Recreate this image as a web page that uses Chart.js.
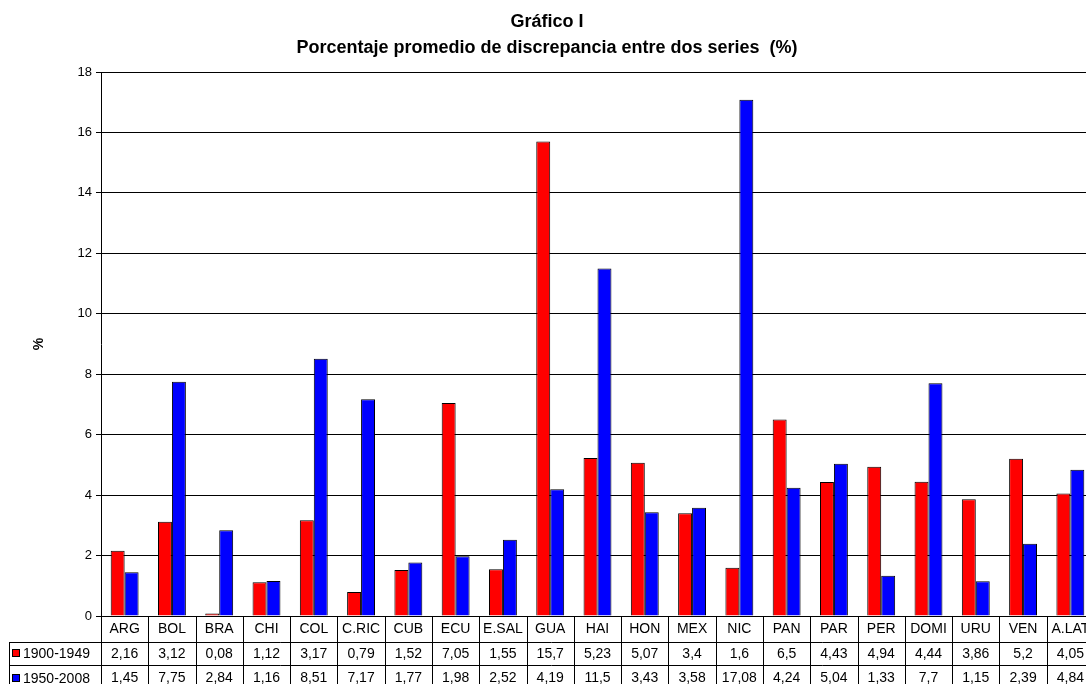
<!DOCTYPE html>
<html>
<head>
<meta charset="utf-8">
<script src="https://cdn.jsdelivr.net/npm/chart.js@4"></script>
<style>
  html, body { margin: 0; padding: 0; background: #fff; overflow: hidden; }
  #wrap { width: 1100px; height: 684px; }
</style>
</head>
<body>
<div id="wrap"><canvas id="chart" width="1100" height="684"></canvas></div>
<script>
const countries = ["ARG", "BOL", "BRA", "CHI", "COL", "C.RIC", "CUB", "ECU", "E.SAL", "GUA", "HAI",
  "HON", "MEX", "NIC", "PAN", "PAR", "PER", "DOMI", "URU", "VEN", "A.LAT"];
const serie1900 = [2.16, 3.12, 0.08, 1.12, 3.17, 0.79, 1.52, 7.05, 1.55, 15.7, 5.23,
  5.07, 3.4, 1.6, 6.5, 4.43, 4.94, 4.44, 3.86, 5.2, 4.05];
const serie1950 = [1.45, 7.75, 2.84, 1.16, 8.51, 7.17, 1.77, 1.98, 2.52, 4.19, 11.5,
  3.43, 3.58, 17.08, 4.24, 5.04, 1.33, 7.7, 1.15, 2.39, 4.84];
const seriesNames = ["1900-1949", "1950-2008"];
const yTicks = [0, 2, 4, 6, 8, 10, 12, 14, 16, 18];

const FONT = "'Liberation Sans', Arial, sans-serif";
const fmt = v => String(v).replace(".", ",");

// table lines + legend column under the x axis
const tablePlugin = {
  id: "dataTable",
  afterDraw(chart) {
    const ctx = chart.ctx;
    const x = chart.scales.x;
    const top = chart.chartArea.bottom;
    const rowLines = [26, 48.5];
    const rowMid = [37, 62];
    const bottom = top + 80;
    const n = countries.length;
    const w = (x.right - x.left) / n;
    const legendLeft = 9;
    ctx.save();
    ctx.strokeStyle = "#000";
    ctx.lineWidth = 1;
    ctx.beginPath();
    for (let i = 0; i <= n; i++) {
      const px = Math.round(x.left + i * w) + 0.5;
      ctx.moveTo(px, top);
      ctx.lineTo(px, bottom);
    }
    rowLines.forEach(r => {
      const py = Math.round(top + r) + 0.5;
      ctx.moveTo(legendLeft, py);
      ctx.lineTo(x.right, py);
    });
    ctx.moveTo(legendLeft + 0.5, top + rowLines[0]);
    ctx.lineTo(legendLeft + 0.5, bottom);
    ctx.stroke();

    const colors = ["#FF0000", "#0000FF"];
    ctx.font = "14px " + FONT;
    ctx.textBaseline = "middle";
    ctx.textAlign = "left";
    seriesNames.forEach((name, k) => {
      const cy = Math.round(top + rowMid[k]);
      ctx.fillStyle = colors[k];
      ctx.fillRect(12, cy - 4, 8, 8);
      ctx.strokeStyle = "#000";
      ctx.strokeRect(12.5, cy - 3.5, 7, 7);
      ctx.fillStyle = "#000";
      ctx.fillText(name, 23, cy + 1);
    });
    ctx.restore();
  }
};

new Chart(document.getElementById("chart"), {
  type: "bar",
  data: {
    labels: countries,
    datasets: [
      {
        label: seriesNames[0],
        data: serie1900,
        backgroundColor: "#FF0000",
        borderColor: "#000",
        borderWidth: 1,
        borderSkipped: "bottom"
      },
      {
        label: seriesNames[1],
        data: serie1950,
        backgroundColor: "#0000FF",
        borderColor: "#000",
        borderWidth: 1,
        borderSkipped: "bottom"
      }
    ]
  },
  options: {
    responsive: false,
    animation: false,
    devicePixelRatio: 1,
    categoryPercentage: 0.59,
    barPercentage: 1,
    layout: { padding: { left: 0, right: 6, top: 0, bottom: 0 } },
    plugins: {
      legend: { display: false },
      tooltip: { enabled: false },
      title: {
        display: true,
        text: ["Gráfico I", "Porcentaje promedio de discrepancia entre dos series  (%)"],
        color: "#000",
        font: { family: FONT, size: 18, weight: "bold", lineHeight: "26px" },
        padding: { top: 9, bottom: 11 }
      }
    },
    scales: {
      x: {
        grid: { display: false, drawTicks: false, tickLength: 0 },
        border: { display: true, color: "#000" },
        ticks: {
          autoSkip: false,
          maxRotation: 0,
          padding: 1,
          color: "#000",
          font: { family: FONT, size: 14, lineHeight: "24.5px" },
          callback: (v, i) => [countries[i], fmt(serie1900[i]), fmt(serie1950[i])]
        },
        afterFit: s => { s.height = 68; }
      },
      y: {
        min: 0,
        max: 18,
        afterBuildTicks: s => { s.ticks = yTicks.map(v => ({ value: v })); },
        grid: { color: "#000", tickLength: 5, tickColor: "#000" },
        border: { display: true, color: "#000" },
        ticks: {
          padding: 4,
          color: "#000",
          font: { family: FONT, size: 13 }
        },
        title: {
          display: true,
          text: "%",
          color: "#000",
          font: { family: FONT, size: 14, weight: "bold" },
          padding: { top: 31, bottom: 0 }
        },
        afterFit: s => { s.width = 101; }
      }
    }
  },
  plugins: [tablePlugin]
});
</script>
</body>
</html>
